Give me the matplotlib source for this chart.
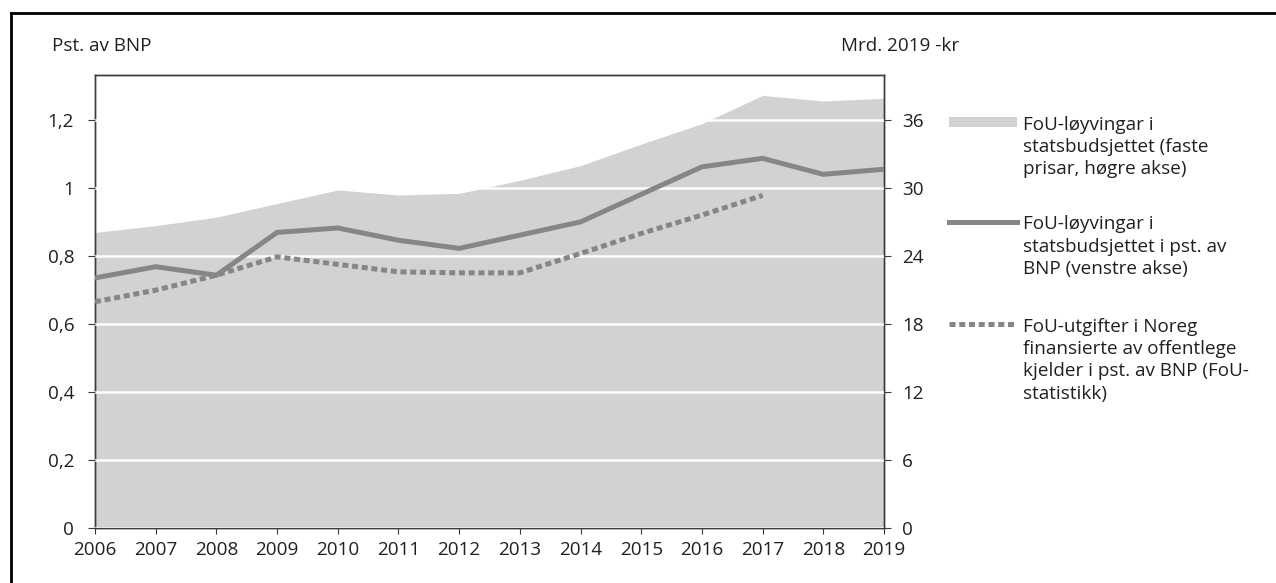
import matplotlib
matplotlib.use("Agg")
import matplotlib.pyplot as plt
from matplotlib.lines import Line2D
from matplotlib.patches import Rectangle
from matplotlib.ticker import FixedLocator, FuncFormatter

plt.rcParams['font.family'] = ['Open Sans', 'DejaVu Sans']

years = list(range(2006, 2020))
# FoU-løyvingar i statsbudsjettet, faste prisar (Mrd. 2019-kr, høgre akse)
appropriations_bn = [26.1, 26.7, 27.45, 28.65, 29.85, 29.4, 29.55, 30.7, 32.0, 33.9, 35.7, 38.2, 37.7, 37.95]
# FoU-løyvingar i statsbudsjettet i pst. av BNP (venstre akse)
appropriations_pct = [0.736, 0.769, 0.744, 0.870, 0.883, 0.847, 0.823, 0.862, 0.901, 0.982, 1.063, 1.088, 1.041, 1.056]
# FoU-utgifter finansierte av offentlege kjelder i pst. av BNP (2006-2017)
stat_years = list(range(2006, 2018))
public_rd_pct = [0.666, 0.700, 0.744, 0.798, 0.776, 0.754, 0.751, 0.751, 0.808, 0.867, 0.921, 0.979]

left_ticks = [0, 0.2, 0.4, 0.6, 0.8, 1.0, 1.2]
right_ticks = [0, 6, 12, 18, 24, 30, 36]

labels = [
    "FoU-løyvingar i\nstatsbudsjettet (faste\nprisar, høgre akse)",
    "FoU-løyvingar i\nstatsbudsjettet i pst. av\nBNP (venstre akse)",
    "FoU-utgifter i Noreg\nfinansierte av offentlege\nkjelder i pst. av BNP (FoU-\nstatistikk)",
]

W, H = 1276, 583
TXT = '#231f20'
FILL = '#d1d2d4'
LINE = '#858688'
FS = 13.6

fig = plt.figure(figsize=(W / 100, H / 100), dpi=100)
ax = fig.add_axes([95 / W, 1 - 528 / H, (884 - 95) / W, (528 - 75) / H])
ax2 = ax.twinx()
ax.set_zorder(ax2.get_zorder() + 1)
ax.patch.set_visible(False)

ax2.fill_between(years, appropriations_bn, 0, color=FILL, linewidth=0)
ax2.set_ylim(0, 40)
ax.set_ylim(0, 40 / 30)
ax.set_xlim(2006, 2019)

ax.plot(years, appropriations_pct, color=LINE, lw=3.6, solid_joinstyle='miter', zorder=3)
ax.plot(stat_years, public_rd_pct, color=LINE, lw=3.6, linestyle=(0, (1.2, 0.75)),
        dash_capstyle='butt', zorder=3)

ax.yaxis.set_major_locator(FixedLocator(left_ticks))
ax.yaxis.set_major_formatter(FuncFormatter(lambda v, p: ('%g' % round(v, 1)).replace('.', ',')))
ax2.yaxis.set_major_locator(FixedLocator(right_ticks))
ax.set_xticks(years)
ax.grid(axis='y', color='white', lw=1.8, zorder=1)
ax.set_axisbelow(False)
for l in ax.get_ygridlines():
    l.set_zorder(1.5)

for a in (ax, ax2):
    for s in a.spines.values():
        s.set_color('#3a3a3a')
        s.set_linewidth(1.0)
ax.tick_params(axis='y', direction='out', length=5, width=0.8, color='#3a3a3a', pad=10,
               labelsize=FS, labelcolor=TXT)
ax.tick_params(axis='x', direction='out', length=4.5, width=0.8, color='#3a3a3a', pad=5,
               labelsize=FS, labelcolor=TXT)
ax2.tick_params(axis='y', direction='out', length=5, width=0.8, color='#3a3a3a', pad=8,
                labelsize=FS, labelcolor=TXT)

fig.text(52 / W, 1 - 46 / H, "Pst. av BNP", ha='left', va='center', fontsize=FS, color=TXT)
fig.text(900 / W, 1 - 46 / H, "Mrd. 2019 -kr", ha='center', va='center', fontsize=FS, color=TXT)

# legend (manual)
lx0, lx1, tx = 949 / W, 1017 / W, 1023 / W
ys = [122, 222, 324]
fig.add_artist(Rectangle((lx0, 1 - (ys[0] + 5) / H), lx1 - lx0, 10 / H, transform=fig.transFigure,
                         facecolor=FILL, edgecolor='none'))
fig.add_artist(Line2D([lx0, lx1], [1 - ys[1] / H] * 2, transform=fig.transFigure, color=LINE, lw=3.6))
fig.add_artist(Line2D([lx0, lx1], [1 - ys[2] / H] * 2, transform=fig.transFigure, color=LINE, lw=3.6,
                      linestyle=(0, (1.2, 0.75)), dash_capstyle='butt'))
for y, lab in zip(ys, labels):
    fig.text(tx, 1 - (y - 6.5) / H, lab, ha='left', va='top', fontsize=FS, color=TXT, linespacing=1.31)

# outer frame (top and left)
fig.add_artist(Line2D([11 / W, 11 / W], [0, 1 - 13 / H], transform=fig.transFigure, color='black', lw=2))
fig.add_artist(Line2D([11 / W, 1], [1 - 13 / H, 1 - 13 / H], transform=fig.transFigure, color='black', lw=2))

fig.savefig("out.png", dpi=100)
